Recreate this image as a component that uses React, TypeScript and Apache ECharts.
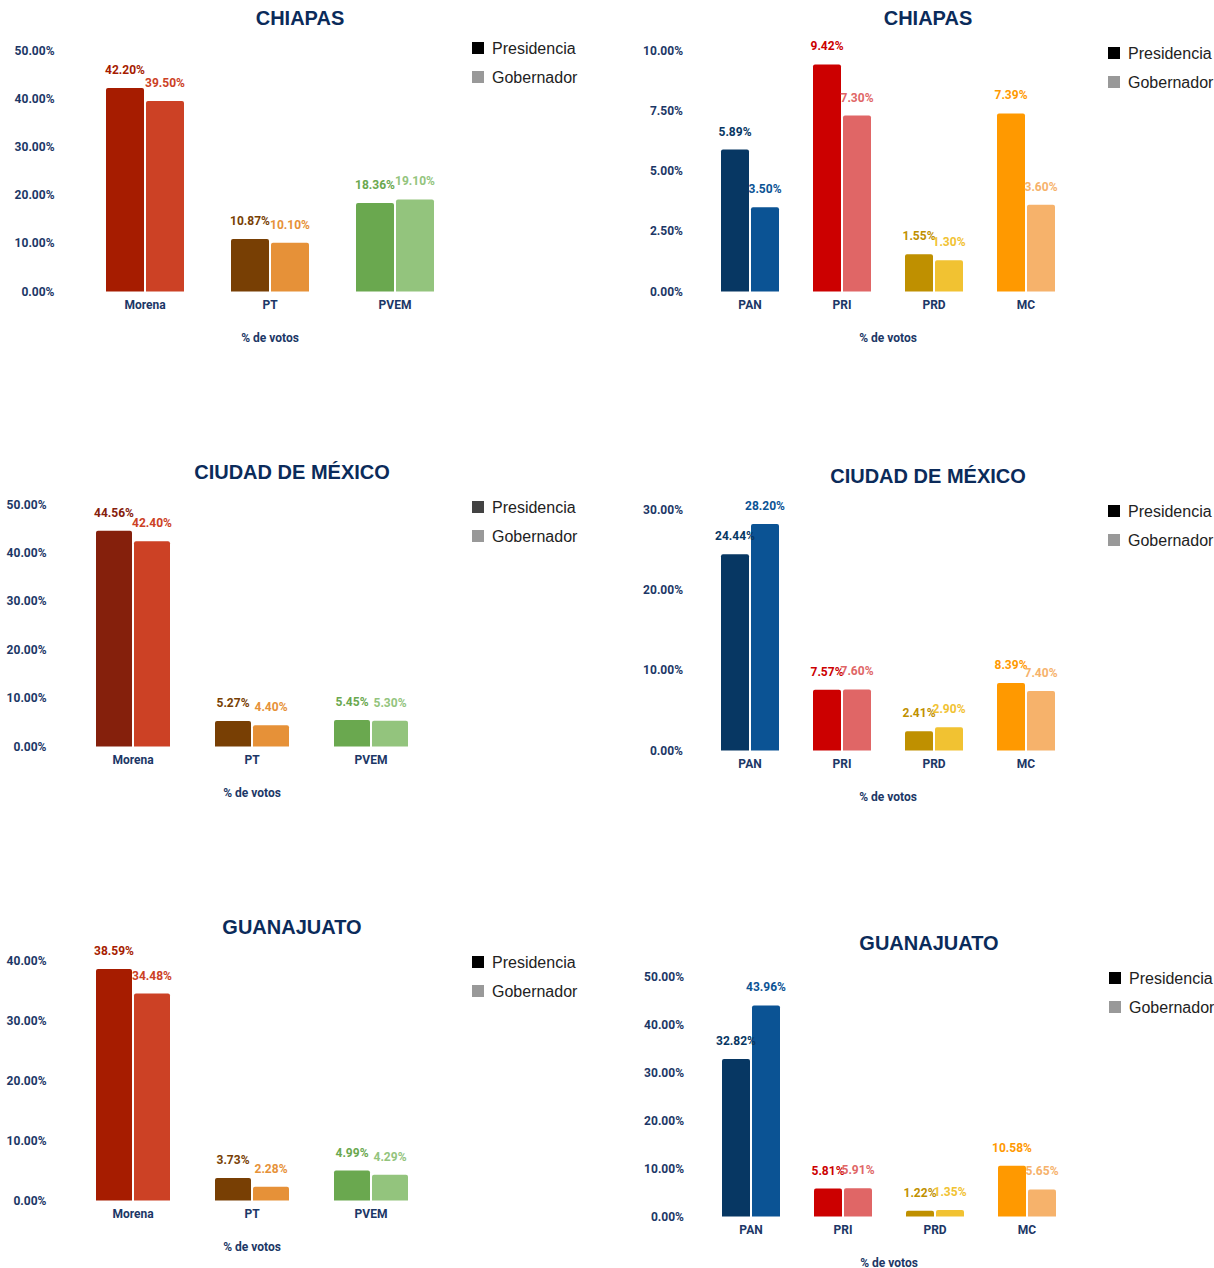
import React, { useEffect, useRef } from "react";
import * as echarts from "echarts";

// ---------- data ----------
const LEFT_PARTIES = ["Morena", "PT", "PVEM"];
const RIGHT_PARTIES = ["PAN", "PRI", "PRD", "MC"];
const SERIES_NAMES = ["Presidencia", "Gobernador"];
const STATE_TITLES = ["CHIAPAS", "CIUDAD DE MÉXICO", "GUANAJUATO"];
const AXIS_NAME = "% de votos";

const chiapasLeftPres = [42.2, 10.87, 18.36];
const chiapasLeftGob = [39.5, 10.1, 19.1];
const chiapasRightPres = [5.89, 9.42, 1.55, 7.39];
const chiapasRightGob = [3.5, 7.3, 1.3, 3.6];

const cdmxLeftPres = [44.56, 5.27, 5.45];
const cdmxLeftGob = [42.4, 4.4, 5.3];
const cdmxRightPres = [24.44, 7.57, 2.41, 8.39];
const cdmxRightGob = [28.2, 7.6, 2.9, 7.4];

const gtoLeftPres = [38.59, 3.73, 4.99];
const gtoLeftGob = [34.48, 2.28, 4.29];
const gtoRightPres = [32.82, 5.81, 1.22, 10.58];
const gtoRightGob = [43.96, 5.91, 1.35, 5.65];

// y-axis ranges (max, interval) per panel
const Y_MAX = [50, 10, 50, 30, 40, 50];
const Y_INTERVAL = [10, 2.5, 10, 10, 10, 10];

// ---------- colours ----------
const leftPresColors = ["#a61c00", "#783f04", "#6aa84f"];
const leftPresColorsCdmx = ["#85200c", "#783f04", "#6aa84f"];
const leftGobColors = ["#cc4125", "#e69138", "#93c47d"];
const rightPresColors = ["#073763", "#cc0000", "#bf9000", "#ff9900"];
const rightGobColors = ["#0b5394", "#e06666", "#f1c232", "#f6b26b"];

const NAVY = "#1c3766";
const TITLE_NAVY = "#0b2b5a";

type Panel = {
  title: string;
  cats: string[];
  pres: number[];
  gob: number[];
  presColors: string[];
  gobColors: string[];
  legendPres: string;
  // layout
  gridLeft: number;
  gridTop: number;
  gridWidth: number;
  gridHeight: number;
  barWidth: number;
  labelMargin: number;
  titleX: number;
  titleY: number;
  legendX: number;
  legendY: number;
};

const panels: Panel[] = [
  {
    title: STATE_TITLES[0], cats: LEFT_PARTIES, pres: chiapasLeftPres, gob: chiapasLeftGob,
    presColors: leftPresColors, gobColors: leftGobColors, legendPres: "#000000",
    gridLeft: 82.5, gridTop: 50.5, gridWidth: 375, gridHeight: 241, barWidth: 38, labelMargin: 28,
    titleX: 300, titleY: 18, legendX: 472, legendY: 48,
  },
  {
    title: STATE_TITLES[0], cats: RIGHT_PARTIES, pres: chiapasRightPres, gob: chiapasRightGob,
    presColors: rightPresColors, gobColors: rightGobColors, legendPres: "#000000",
    gridLeft: 704, gridTop: 50.5, gridWidth: 368, gridHeight: 241, barWidth: 28, labelMargin: 21,
    titleX: 928, titleY: 18, legendX: 1108, legendY: 53,
  },
  {
    title: STATE_TITLES[1], cats: LEFT_PARTIES, pres: cdmxLeftPres, gob: cdmxLeftGob,
    presColors: leftPresColorsCdmx, gobColors: leftGobColors, legendPres: "#434343",
    gridLeft: 73.5, gridTop: 504.5, gridWidth: 357, gridHeight: 242, barWidth: 36, labelMargin: 27,
    titleX: 292, titleY: 472, legendX: 472, legendY: 507,
  },
  {
    title: STATE_TITLES[1], cats: RIGHT_PARTIES, pres: cdmxRightPres, gob: cdmxRightGob,
    presColors: rightPresColors, gobColors: rightGobColors, legendPres: "#000000",
    gridLeft: 704, gridTop: 509.5, gridWidth: 368, gridHeight: 241, barWidth: 28, labelMargin: 21,
    titleX: 928, titleY: 476, legendX: 1108, legendY: 511,
  },
  {
    title: STATE_TITLES[2], cats: LEFT_PARTIES, pres: gtoLeftPres, gob: gtoLeftGob,
    presColors: leftPresColors, gobColors: leftGobColors, legendPres: "#000000",
    gridLeft: 73.5, gridTop: 960.5, gridWidth: 357, gridHeight: 240, barWidth: 36, labelMargin: 27,
    titleX: 292, titleY: 927, legendX: 472, legendY: 962,
  },
  {
    title: STATE_TITLES[2], cats: RIGHT_PARTIES, pres: gtoRightPres, gob: gtoRightGob,
    presColors: rightPresColors, gobColors: rightGobColors, legendPres: "#000000",
    gridLeft: 705, gridTop: 976.5, gridWidth: 368, gridHeight: 240, barWidth: 28, labelMargin: 21,
    titleX: 929, titleY: 943, legendX: 1109, legendY: 978,
  },
];

const pct = (v: number) => v.toFixed(2) + "%";
const LABEL_FONT = "Roboto, 'Noto Sans', sans-serif";

function buildOption() {
  const title = panels.map((p) => ({
    text: p.title,
    left: p.titleX,
    top: p.titleY,
    textAlign: "center",
    textVerticalAlign: "middle",
    padding: 0,
    textStyle: {
      color: TITLE_NAVY,
      fontSize: 20,
      fontWeight: "bold",
      fontFamily: "Arial, 'Liberation Sans', sans-serif",
    },
  }));

  const legend = panels.map((p) => ({
    left: p.legendX,
    top: p.legendY - 9,
    orient: "vertical",
    icon: "rect",
    itemWidth: 12,
    itemHeight: 12,
    itemGap: 11,
    padding: 0,
    selectedMode: false,
    textStyle: {
      fontSize: 16,
      lineHeight: 18,
      color: "#222222",
      fontFamily: "Arial, 'Liberation Sans', sans-serif",
      padding: [0, 0, 0, 3],
    },
    data: [
      { name: SERIES_NAMES[0], itemStyle: { color: p.legendPres } },
      { name: SERIES_NAMES[1], itemStyle: { color: "#999999" } },
    ],
  }));

  const grid = panels.map((p) => ({
    left: p.gridLeft,
    top: p.gridTop,
    width: p.gridWidth,
    height: p.gridHeight,
    containLabel: false,
    outerBoundsMode: "none",
  }));

  const xAxis = panels.map((p, i) => ({
    type: "category",
    gridIndex: i,
    data: p.cats,
    axisLine: { show: false },
    axisTick: { show: false },
    splitLine: { show: false },
    axisLabel: {
      margin: 7,
      color: NAVY,
      fontSize: 12,
      fontWeight: "bold",
      fontFamily: LABEL_FONT,
    },
    name: AXIS_NAME,
    nameLocation: "middle",
    nameGap: 40,
    nameTextStyle: {
      color: NAVY,
      fontSize: 12,
      fontWeight: "bold",
      fontFamily: LABEL_FONT,
    },
  }));

  const yAxis = panels.map((p, i) => ({
    type: "value",
    gridIndex: i,
    min: 0,
    max: Y_MAX[i],
    interval: Y_INTERVAL[i],
    axisLine: { show: false },
    axisTick: { show: false },
    splitLine: { show: false },
    axisLabel: {
      margin: p.labelMargin,
      formatter: (v: number) => pct(v),
      color: NAVY,
      fontSize: 12,
      fontWeight: "bold",
      fontFamily: LABEL_FONT,
    },
  }));

  const series: any[] = [];
  panels.forEach((p, i) => {
    const make = (name: string, values: number[], colors: string[], base: string) => ({
      type: "bar",
      name,
      xAxisIndex: i,
      yAxisIndex: i,
      barWidth: p.barWidth,
      barGap: (2 / p.barWidth) * 100 + "%",
      itemStyle: { color: base, borderRadius: [2, 2, 0, 0] },
      label: {
        show: true,
        position: "top",
        distance: 12,
        formatter: (d: any) => pct(d.value),
        fontSize: 12,
        fontWeight: "bold",
        fontFamily: LABEL_FONT,
      },
      data: values.map((v, j) => ({
        value: v,
        itemStyle: { color: colors[j] },
        label: { color: colors[j] },
      })),
    });
    series.push(make(SERIES_NAMES[0], p.pres, p.presColors, "#000000"));
    series.push(make(SERIES_NAMES[1], p.gob, p.gobColors, "#999999"));
  });

  return {
    animation: false,
    backgroundColor: "#ffffff",
    title,
    legend,
    grid,
    xAxis,
    yAxis,
    series,
  };
}

export default function App() {
  const ref = useRef<HTMLDivElement>(null);
  useEffect(() => {
    if (!ref.current) return;
    const chart = echarts.init(ref.current, undefined, { renderer: "svg" });
    chart.setOption(buildOption() as any);
    return () => chart.dispose();
  }, []);
  return (
    <div
      ref={ref}
      style={{
        position: "absolute",
        left: 0,
        top: 0,
        width: 1214,
        height: 1268,
        background: "#ffffff",
      }}
    />
  );
}
